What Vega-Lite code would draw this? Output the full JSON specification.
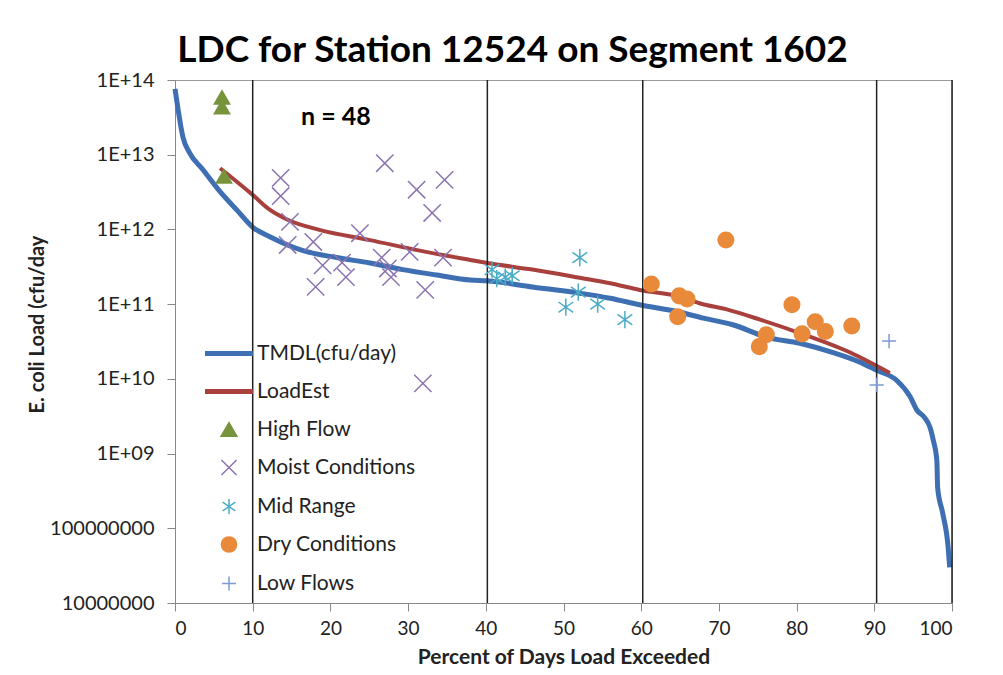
{
  "$schema": "https://vega.github.io/schema/vega-lite/v6.json",
  "autosize": {"type": "none"},
  "width": 777,
  "height": 523,
  "padding": {"left": 175, "top": 80, "right": 51, "bottom": 72},
  "background": "white",
  "title": {
    "text": "LDC for Station 12524 on Segment 1602",
    "font": "Lato", "fontSize": 37, "fontWeight": "bold", "color": "#000",
    "anchor": "middle", "dx": -51, "offset": 0
  },
  "config": {
    "view": {"stroke": "#999", "strokeWidth": 1},
    "font": "Lato",
    "axis": {"grid": false, "domainColor": "#888", "tickColor": "#888", "labelFont": "Lato", "labelColor": "#222", "titleFont": "Lato", "titleFontWeight": "bold", "titleColor": "#222"}
  },
  "datasets": {
    "curves": [
      {"series": "TMDL(cfu/day)", "pct": 0, "load": 7.6e13},
      {"series": "TMDL(cfu/day)", "pct": 0.4, "load": 4.0e13},
      {"series": "TMDL(cfu/day)", "pct": 1.0, "load": 1.75e13},
      {"series": "TMDL(cfu/day)", "pct": 1.9, "load": 1.05e13},
      {"series": "TMDL(cfu/day)", "pct": 3.6, "load": 6.3e12},
      {"series": "TMDL(cfu/day)", "pct": 5.8, "load": 3.2e12},
      {"series": "TMDL(cfu/day)", "pct": 8.0, "load": 1.8e12},
      {"series": "TMDL(cfu/day)", "pct": 10.0, "load": 1.07e12},
      {"series": "TMDL(cfu/day)", "pct": 12.2, "load": 8.0e11},
      {"series": "TMDL(cfu/day)", "pct": 16.5, "load": 5.2e11},
      {"series": "TMDL(cfu/day)", "pct": 20.8, "load": 4.2e11},
      {"series": "TMDL(cfu/day)", "pct": 25.1, "load": 3.55e11},
      {"series": "TMDL(cfu/day)", "pct": 29.3, "load": 2.9e11},
      {"series": "TMDL(cfu/day)", "pct": 33.7, "load": 2.45e11},
      {"series": "TMDL(cfu/day)", "pct": 38.0, "load": 2.1e11},
      {"series": "TMDL(cfu/day)", "pct": 40.2, "load": 2.05e11},
      {"series": "TMDL(cfu/day)", "pct": 46.0, "load": 1.7e11},
      {"series": "TMDL(cfu/day)", "pct": 52.1, "load": 1.4e11},
      {"series": "TMDL(cfu/day)", "pct": 56.0, "load": 1.2e11},
      {"series": "TMDL(cfu/day)", "pct": 59.8, "load": 9.8e10},
      {"series": "TMDL(cfu/day)", "pct": 65.0, "load": 7.8e10},
      {"series": "TMDL(cfu/day)", "pct": 68.0, "load": 6.5e10},
      {"series": "TMDL(cfu/day)", "pct": 71.8, "load": 5.3e10},
      {"series": "TMDL(cfu/day)", "pct": 76.2, "load": 3.6e10},
      {"series": "TMDL(cfu/day)", "pct": 80.4, "load": 3.0e10},
      {"series": "TMDL(cfu/day)", "pct": 84.7, "load": 2.25e10},
      {"series": "TMDL(cfu/day)", "pct": 88.0, "load": 1.7e10},
      {"series": "TMDL(cfu/day)", "pct": 90.3, "load": 1.3e10},
      {"series": "TMDL(cfu/day)", "pct": 92.9, "load": 9.5e9},
      {"series": "TMDL(cfu/day)", "pct": 94.6, "load": 5.8e9},
      {"series": "TMDL(cfu/day)", "pct": 95.5, "load": 3.8e9},
      {"series": "TMDL(cfu/day)", "pct": 96.5, "load": 3.0e9},
      {"series": "TMDL(cfu/day)", "pct": 97.2, "load": 2.2e9},
      {"series": "TMDL(cfu/day)", "pct": 97.6, "load": 1.5e9},
      {"series": "TMDL(cfu/day)", "pct": 98.05, "load": 8.0e8},
      {"series": "TMDL(cfu/day)", "pct": 98.15, "load": 3.5e8},
      {"series": "TMDL(cfu/day)", "pct": 98.8, "load": 1.6e8},
      {"series": "TMDL(cfu/day)", "pct": 99.5, "load": 5.6e7},
      {"series": "TMDL(cfu/day)", "pct": 99.7, "load": 3.0e7},
      {"series": "LoadEst", "pct": 5.8, "load": 6.6e12},
      {"series": "LoadEst", "pct": 10.0, "load": 2.9e12},
      {"series": "LoadEst", "pct": 12.0, "load": 1.9e12},
      {"series": "LoadEst", "pct": 14.5, "load": 1.35e12},
      {"series": "LoadEst", "pct": 18.7, "load": 9.8e11},
      {"series": "LoadEst", "pct": 25.1, "load": 7.2e11},
      {"series": "LoadEst", "pct": 31.5, "load": 5.2e11},
      {"series": "LoadEst", "pct": 38.0, "load": 3.9e11},
      {"series": "LoadEst", "pct": 40.2, "load": 3.55e11},
      {"series": "LoadEst", "pct": 46.0, "load": 2.9e11},
      {"series": "LoadEst", "pct": 52.1, "load": 2.25e11},
      {"series": "LoadEst", "pct": 56.0, "load": 1.9e11},
      {"series": "LoadEst", "pct": 59.8, "load": 1.55e11},
      {"series": "LoadEst", "pct": 65.0, "load": 1.26e11},
      {"series": "LoadEst", "pct": 67.6, "load": 1.02e11},
      {"series": "LoadEst", "pct": 71.0, "load": 8.5e10},
      {"series": "LoadEst", "pct": 75.3, "load": 6.2e10},
      {"series": "LoadEst", "pct": 80.4, "load": 4.1e10},
      {"series": "LoadEst", "pct": 86.9, "load": 2.25e10},
      {"series": "LoadEst", "pct": 92.0, "load": 1.2e10}
    ],
    "samples": [
      {"series": "High Flow", "pct": 6.05, "load": 5.9e13},
      {"series": "High Flow", "pct": 6.05, "load": 4.4e13},
      {"series": "High Flow", "pct": 6.3, "load": 5.2e12},
      {"series": "Moist Conditions", "pct": 13.6, "load": 4.9e12},
      {"series": "Moist Conditions", "pct": 13.6, "load": 2.8e12},
      {"series": "Moist Conditions", "pct": 14.8, "load": 1.26e12},
      {"series": "Moist Conditions", "pct": 14.5, "load": 6.2e11},
      {"series": "Moist Conditions", "pct": 17.8, "load": 6.8e11},
      {"series": "Moist Conditions", "pct": 19.0, "load": 3.3e11},
      {"series": "Moist Conditions", "pct": 18.1, "load": 1.7e11},
      {"series": "Moist Conditions", "pct": 21.5, "load": 3.6e11},
      {"series": "Moist Conditions", "pct": 22.0, "load": 2.3e11},
      {"series": "Moist Conditions", "pct": 23.8, "load": 8.9e11},
      {"series": "Moist Conditions", "pct": 27.0, "load": 7.7e12},
      {"series": "Moist Conditions", "pct": 26.6, "load": 4.2e11},
      {"series": "Moist Conditions", "pct": 27.4, "load": 3.0e11},
      {"series": "Moist Conditions", "pct": 27.8, "load": 2.3e11},
      {"series": "Moist Conditions", "pct": 30.2, "load": 5.0e11},
      {"series": "Moist Conditions", "pct": 31.1, "load": 3.4e12},
      {"series": "Moist Conditions", "pct": 32.2, "load": 1.55e11},
      {"series": "Moist Conditions", "pct": 33.1, "load": 1.66e12},
      {"series": "Moist Conditions", "pct": 34.5, "load": 4.2e11},
      {"series": "Moist Conditions", "pct": 34.7, "load": 4.6e12},
      {"series": "Moist Conditions", "pct": 31.9, "load": 8.7e9},
      {"series": "Mid Range", "pct": 40.8, "load": 2.9e11},
      {"series": "Mid Range", "pct": 41.4, "load": 2.2e11},
      {"series": "Mid Range", "pct": 42.5, "load": 2.3e11},
      {"series": "Mid Range", "pct": 43.4, "load": 2.4e11},
      {"series": "Mid Range", "pct": 52.1, "load": 4.2e11},
      {"series": "Mid Range", "pct": 51.9, "load": 1.45e11},
      {"series": "Mid Range", "pct": 50.3, "load": 9.1e10},
      {"series": "Mid Range", "pct": 54.4, "load": 1.0e11},
      {"series": "Mid Range", "pct": 57.9, "load": 6.2e10},
      {"series": "Dry Conditions", "pct": 61.3, "load": 1.86e11},
      {"series": "Dry Conditions", "pct": 64.9, "load": 1.29e11},
      {"series": "Dry Conditions", "pct": 65.9, "load": 1.17e11},
      {"series": "Dry Conditions", "pct": 64.7, "load": 6.8e10},
      {"series": "Dry Conditions", "pct": 70.9, "load": 7.2e11},
      {"series": "Dry Conditions", "pct": 79.4, "load": 9.8e10},
      {"series": "Dry Conditions", "pct": 82.4, "load": 5.8e10},
      {"series": "Dry Conditions", "pct": 83.7, "load": 4.3e10},
      {"series": "Dry Conditions", "pct": 87.1, "load": 5.1e10},
      {"series": "Dry Conditions", "pct": 76.1, "load": 3.9e10},
      {"series": "Dry Conditions", "pct": 75.2, "load": 2.7e10},
      {"series": "Dry Conditions", "pct": 80.7, "load": 4.0e10},
      {"series": "Low Flows", "pct": 91.9, "load": 3.2e10},
      {"series": "Low Flows", "pct": 90.3, "load": 8.3e9}
    ],
    "bands": [{"pct": 10}, {"pct": 40.2}, {"pct": 60.2}, {"pct": 90.3}, {"pct": 100}],
    "note": [{"pct": 20.7, "load": 3.2e13, "text": "n = 48"}]
  },
  "layer": [
    {
      "data": {"name": "curves"},
      "mark": {"type": "line", "strokeCap": "butt", "strokeJoin": "round", "interpolate": "monotone"},
      "encoding": {
        "x": {"field": "pct", "type": "quantitative", "scale": {"domain": [0, 100], "nice": false},
          "axis": {"title": "Percent of Days  Load Exceeded", "titleFontSize": 21, "labelFontSize": 19, "labelFont": "Lato", "values": [0,10,20,30,40,50,60,70,80,90,100], "tickSize": 8, "labelPadding": 8, "titlePadding": 8}},
        "y": {"field": "load", "type": "quantitative", "scale": {"type": "log", "domain": [1e7, 1e14], "nice": false},
          "axis": {"title": "E. coli Load (cfu/day", "titleFontSize": 20, "labelFontSize": 20, "labelFont": "Lato", "values": [1e7,1e8,1e9,1e10,1e11,1e12,1e13,1e14], "tickSize": 8, "labelPadding": 13,
            "titleX": -138, "titleY": 244, "titleAlign": "center", "titleBaseline": "middle", "titleAngle": -90,
            "labelExpr": "datum.value >= 1e9 ? '1E+' + (round(log(datum.value)/LN10) < 10 ? '0' : '') + round(log(datum.value)/LN10) : format(datum.value, 'd')"}},
        "color": {"field": "series", "type": "nominal",
          "scale": {"domain": ["TMDL(cfu/day)", "LoadEst", "High Flow", "Moist Conditions", "Mid Range", "Dry Conditions", "Low Flows"],
                    "range": ["#3F6FB3", "#A8403E", "#77933C", "#8B74B0", "#4BACC6", "#E98A3B", "#7E9AD4"]},
          "legend": {"orient": "none", "legendX": 30, "legendY": 263, "title": null, "labelFont": "Lato", "labelFontSize": 21, "labelColor": "#222",
            "rowPadding": 16, "symbolOpacity": 1, "symbolStrokeWidth": 1.5,
            "encode": {
              "symbols": {"update": {
                "x": {"value": 24},
                "fill": {"scale": "color", "field": "value"},
                "stroke": {"scale": "color", "field": "value"},
                "opacity": {"value": 1},
                "strokeWidth": {"signal": "datum.value == 'TMDL(cfu/day)' || datum.value == 'LoadEst' ? 5 : 1.5"},
                "size": {"signal": "datum.value == 'TMDL(cfu/day)' || datum.value == 'LoadEst' ? 2304 : datum.value == 'Moist Conditions' ? 230 : datum.value == 'Mid Range' ? 220 : datum.value == 'Low Flows' ? 200 : datum.value == 'Dry Conditions' ? 230 : 250"}
              }},
              "labels": {"update": {"x": {"value": 52}}}
            }}},
        "strokeWidth": {"condition": {"test": "datum.series == 'TMDL(cfu/day)'", "value": 5}, "value": 4}
      }
    },
    {
      "data": {"name": "bands"},
      "mark": {"type": "rule", "color": "#222", "strokeWidth": 1.5},
      "encoding": {"x": {"field": "pct", "type": "quantitative"}}
    },
    {
      "data": {"name": "samples"},
      "transform": [{"filter": "datum.series == 'High Flow' || datum.series == 'Dry Conditions'"}],
      "mark": {"type": "point", "filled": true, "opacity": 1, "strokeWidth": 0},
      "encoding": {
        "x": {"field": "pct", "type": "quantitative"},
        "y": {"field": "load", "type": "quantitative"},
        "color": {"field": "series", "type": "nominal"},
        "shape": {"field": "series", "type": "nominal",
          "scale": {"domain": ["TMDL(cfu/day)", "LoadEst", "High Flow", "Moist Conditions", "Mid Range", "Dry Conditions", "Low Flows"],
                    "range": ["stroke", "stroke", "triangle-up", "M-1,-1L1,1M-1,1L1,-1", "M0,-1L0,1M-0.85,-0.6L0.85,0.6M-0.85,0.6L0.85,-0.6", "circle", "M-1,0L1,0M0,-1L0,1"]}},
        "size": {"condition": {"test": "datum.series == 'High Flow'", "value": 320}, "value": 290}
      }
    },
    {
      "data": {"name": "samples"},
      "transform": [{"filter": "datum.series != 'High Flow' && datum.series != 'Dry Conditions'"}],
      "mark": {"type": "point", "filled": false, "opacity": 1, "strokeWidth": 1.5},
      "encoding": {
        "x": {"field": "pct", "type": "quantitative"},
        "y": {"field": "load", "type": "quantitative"},
        "color": {"field": "series", "type": "nominal"},
        "shape": {"field": "series", "type": "nominal"},
        "size": {"condition": {"test": "datum.series == 'Low Flows'", "value": 200}, "value": 300}
      }
    },
    {
      "data": {"name": "note"},
      "mark": {"type": "text", "font": "Lato", "fontSize": 25, "fontWeight": "bold", "color": "#000"},
      "encoding": {
        "x": {"field": "pct", "type": "quantitative"},
        "y": {"field": "load", "type": "quantitative"},
        "text": {"field": "text"}
      }
    }
  ]
}
